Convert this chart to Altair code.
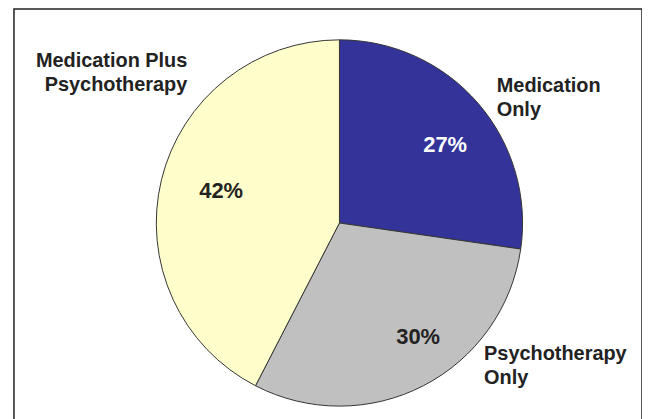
import altair as alt
import pandas as pd

categories = ["Medication Only", "Psychotherapy Only", "Medication Plus Psychotherapy"]
label_lines = ["Medication\nOnly", "Psychotherapy\nOnly", "Medication Plus\nPsychotherapy"]
percents = [27, 30, 42]
colors = ["#333399", "#c0c0c0", "#ffffcc"]

df = pd.DataFrame({
    "category": categories,
    "label": label_lines,
    "value": percents,
    "idx": list(range(len(categories))),
})
df["pct"] = [f"{v}%" for v in percents]

CX, CY, R = 327, 215, 184
FONT = "Liberation Sans"

base = alt.Chart(df).transform_joinaggregate(
    total="sum(value)"
).transform_window(
    cum="sum(value)", sort=[alt.SortField("idx")]
).transform_calculate(
    frac="datum.value / datum.total",
    mid="(datum.cum - datum.value / 2) / datum.total",
)

pie = base.mark_arc(outerRadius=R, stroke="#333333", strokeWidth=1).encode(
    theta=alt.Theta("frac:Q", stack=True, scale=alt.Scale(domain=[0, 1])),
    color=alt.Color("category:N", scale=alt.Scale(domain=categories, range=colors), legend=None),
    order=alt.Order("idx:Q"),
    x=alt.value(CX),
    y=alt.value(CY),
)

def text_layer(cat, field, radius, align, dx, dy, size, color):
    return base.transform_filter(alt.datum.category == cat).mark_text(
        radius=radius, align=align, baseline="middle", dx=dx, dy=dy,
        font=FONT, fontWeight="bold", fontSize=size, color=color,
        lineBreak="\n", lineHeight=24,
    ).encode(
        theta=alt.Theta("mid:Q", stack=None, scale=alt.Scale(domain=[0, 1])),
        text=alt.Text(f"{field}:N"),
        x=alt.value(CX),
        y=alt.value(CY),
    )

layers = [
    pie,
    text_layer(categories[0], "pct", 130, "center", 8, 6.5, 22, "#ffffff"),
    text_layer(categories[1], "pct", 130, "center", 19.5, -1.3, 22, "#222222"),
    text_layer(categories[2], "pct", 130, "center", 7.5, -1.3, 22, "#222222"),
    text_layer(categories[0], "label", R, "left", 19, -17, 20, "#222222"),
    text_layer(categories[1], "label", R, "left", 61, -32, 20, "#222222"),
    text_layer(categories[2], "label", R, "right", 26, -119, 20, "#222222"),
]

chart = alt.layer(*layers).properties(
    width=631, height=420,
    autosize=alt.AutoSizeParams(type="none"),
    padding={"left": 6, "top": 0, "right": 0, "bottom": 0},
).configure_view(stroke="#222222", strokeWidth=1.5)

chart.save("out.html", embed_options={"renderer": "svg", "actions": False})
